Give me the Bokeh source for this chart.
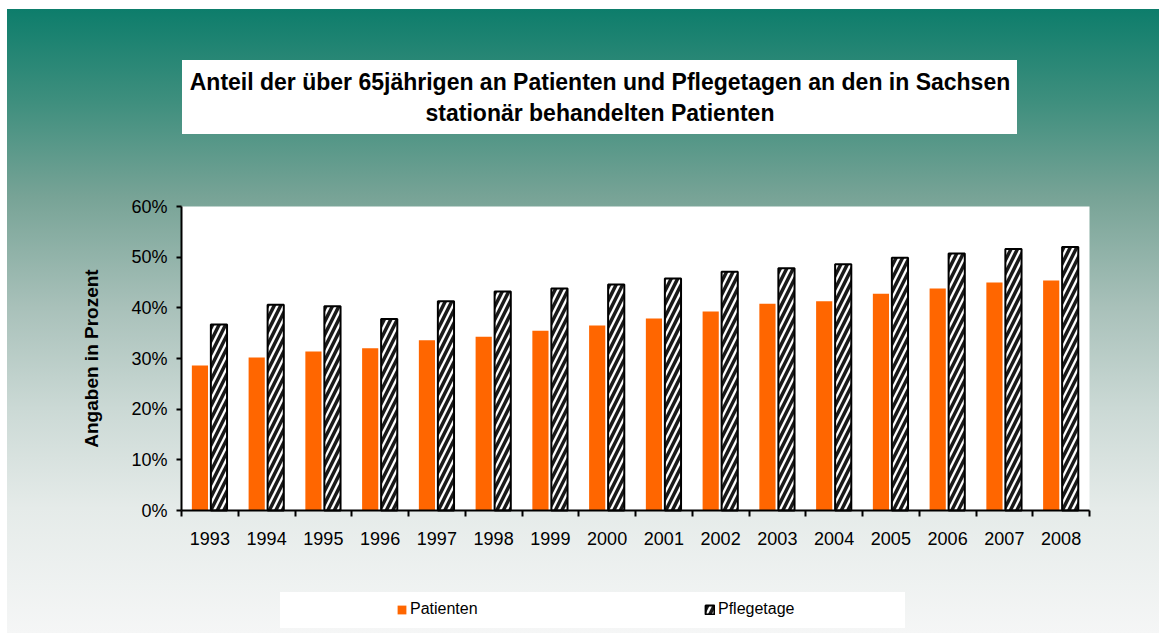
from bokeh.plotting import figure
from bokeh.models import (FixedTicker, Label, Legend, LegendItem, PrintfTickFormatter,
                          ColumnDataSource, Range1d, BoxAnnotation)
from bokeh.transform import dodge
from bokeh.embed import file_html
from bokeh.resources import INLINE

# ---- data ----
years = ["1993", "1994", "1995", "1996", "1997", "1998", "1999", "2000",
         "2001", "2002", "2003", "2004", "2005", "2006", "2007", "2008"]
patienten = [28.6, 30.2, 31.4, 32.0, 33.6, 34.3, 35.5, 36.5,
             37.9, 39.3, 40.8, 41.3, 42.8, 43.8, 45.0, 45.4]
pflegetage = [36.7, 40.6, 40.3, 37.8, 41.3, 43.2, 43.8, 44.6,
              45.8, 47.1, 47.8, 48.6, 49.9, 50.7, 51.6, 52.0]
y_ticks = [0, 10, 20, 30, 40, 50, 60]
title_lines = ["Anteil der über 65jährigen an Patienten und Pflegetagen an den in Sachsen",
               "stationär behandelten Patienten"]
y_label = "Angaben in Prozent"
series_names = ["Patienten", "Pflegetage"]

# ---- layout (pixels) ----
W, H = 1159, 633
PX_L, PX_R, PX_T, PX_B = 181, 1089, 206, 510
n = len(years)
y_max = max(y_ticks)
xs = n / (PX_R - PX_L)
ys = y_max / (PX_B - PX_T)


def dx(px):
    return -0.5 + (px - PX_L) * xs


def dy(py):
    return (PX_B - py) * ys


idx = list(range(n))
src = ColumnDataSource(dict(x=idx, year=years, pat=patienten, pfl=pflegetage))

FONT = "Liberation Sans"

bg = ("linear-gradient(#ffffff,#ffffff) 182px 60px / 835px 74px no-repeat, "
      "linear-gradient(#ffffff,#ffffff) 280px 592px / 625px 36px no-repeat, "
      "linear-gradient(to bottom, #0d7d6b 0%, #3f8f7e 15%, #77a396 30%, "
      "#a9c1ba 48%, #cbd9d5 64%, #e5ebe9 80%, #f5f6f6 100%) 7px 9px / 1152px 624px no-repeat, "
      "#ffffff")

p = figure(width=W, height=H, output_backend="svg", toolbar_location=None,
           x_range=Range1d(dx(0), dx(W)), y_range=Range1d(dy(H), dy(0)),
           min_border=0, min_border_left=0, min_border_right=0,
           min_border_top=0, min_border_bottom=0, tools="")
p.styles = {"background": bg}
p.border_fill_color = None
p.background_fill_color = None
p.outline_line_color = None
p.grid.visible = False

# white plot area
p.add_layout(BoxAnnotation(left=-0.5, right=n - 0.5, bottom=0, top=y_max,
                           fill_color="white", fill_alpha=1, line_color=None,
                           level="underlay"))

r1 = p.vbar(x=dodge("x", -0.175, range=p.x_range), top="pat", width=0.285, source=src,
            fill_color="#ff6600", line_color=None)
r2 = p.vbar(x=dodge("x", 0.16, range=p.x_range), top="pfl", width=0.285, source=src,
            fill_color="white", line_color="black", line_width=2,
            hatch_pattern="/", hatch_color="#1a1a1a", hatch_scale=13, hatch_weight=3.5)

# x axis
xa = p.xaxis[0]
xa.fixed_location = 0
xa.bounds = (-0.5, n - 0.5)
xa.ticker = FixedTicker(ticks=idx, minor_ticks=[i - 0.5 for i in range(n + 1)])
xa.major_label_overrides = {i: y for i, y in zip(idx, years)}
xa.major_tick_out = 0
xa.major_tick_in = 0
xa.minor_tick_out = 6
xa.minor_tick_in = 0
xa.minor_tick_line_width = 2
xa.minor_tick_line_color = "black"
xa.axis_line_width = 2
xa.axis_line_color = "black"
xa.major_label_text_font = FONT
xa.major_label_text_font_size = "18px"
xa.major_label_text_color = "black"
xa.major_label_standoff = 15

# y axis
ya = p.yaxis[0]
ya.fixed_location = -0.5
ya.bounds = (0, y_max)
ya.ticker = FixedTicker(ticks=y_ticks)
ya.formatter = PrintfTickFormatter(format="%d%%")
ya.major_tick_out = 5
ya.major_tick_in = 0
ya.minor_tick_out = 0
ya.minor_tick_in = 0
ya.major_tick_line_width = 2
ya.axis_line_width = 2
ya.axis_line_color = "black"
ya.major_label_text_font = FONT
ya.major_label_text_font_size = "18px"
ya.major_label_text_color = "black"
ya.major_label_standoff = 9
ya.axis_label = y_label
ya.axis_label_text_font = FONT
ya.axis_label_text_font_size = "19px"
ya.axis_label_text_font_style = "bold"
ya.axis_label_text_color = "black"
ya.axis_label_standoff = 26

# title, two lines
for text, base_px in zip(title_lines, [81, 112]):
    p.add_layout(Label(x=dx(599.5), y=dy(base_px), text=text,
                       text_align="center", text_baseline="alphabetic",
                       text_font=FONT, text_font_size="23px", text_font_style="bold",
                       text_color="black"))

legend = Legend(items=[LegendItem(label=series_names[0], renderers=[r1]),
                       LegendItem(label=series_names[1], renderers=[r2])],
                orientation="horizontal", location=(396, H - 618),
                background_fill_alpha=0, border_line_color=None,
                padding=0, margin=0, spacing=214, label_width=80, label_height=16,
                glyph_width=11, glyph_height=11, label_standoff=3,
                label_text_font=FONT, label_text_font_size="16px",
                label_text_color="black")
p.add_layout(legend, "center")

open("out.html", "w").write(file_html(p, INLINE))
